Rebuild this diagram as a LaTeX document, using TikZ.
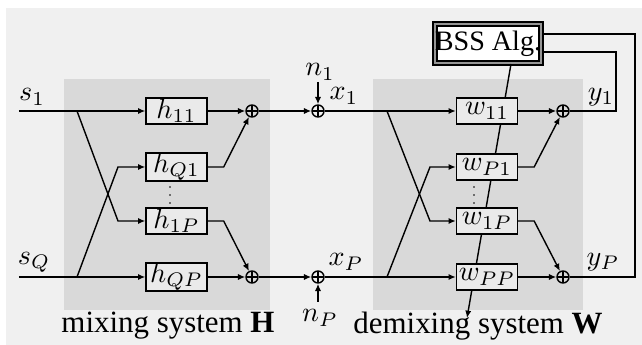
\documentclass[tikz,border=0pt]{standalone}
\usepackage{fontspec}
\setmainfont{Liberation Serif}
\usetikzlibrary{arrows.meta}
\definecolor{bgpanel}{RGB}{240,240,240}
\definecolor{sysgray}{RGB}{217,217,217}
\definecolor{boxfill}{RGB}{234,234,234}
\definecolor{gapgray}{RGB}{150,150,150}

\begin{document}
\begin{tikzpicture}[x=0.125mm, y=-0.125mm,
    filt/.style={rectangle, draw, line width=0.55pt, fill=boxfill, minimum width=7.6mm,
      minimum height=3.25mm, inner sep=0pt},
    sumnode/.style={circle, draw, line width=0.5pt, minimum size=1.5mm, inner sep=0pt,
      path picture={\draw[line width=0.5pt] (path picture bounding box.north) -- (path picture bounding box.south)
        (path picture bounding box.west) -- (path picture bounding box.east);}},
    arr/.style={-{Latex[length=2.6pt,width=2.2pt]}, line width=0.5pt},
    wire/.style={line width=0.5pt},
    lbl/.style={inner sep=0pt}
  ]
    \useasboundingbox (0,0) rectangle (642,345);
    % Backgrounds
    \fill[bgpanel] (6,8) rectangle (642,345);
    \fill[sysgray] (64,79) rectangle (270,310);
    \fill[sysgray] (373,79) rectangle (583,310);
    % Adaptation path (behind the filters)
    \node[draw, line width=0.6pt, double=gapgray, double distance=0.9pt, fill=white,
      minimum width=12.9mm, minimum height=4.9mm, inner sep=0pt, font=\fontsize{10}{12}\selectfont]
      (bss) at (488,43.5) {BSS Alg.};
    \coordinate (adapt) at (467,318);
    \draw[arr] (511,64) -- (adapt);
    % Mixing filters
    \node[filt] (h11) at (176.5,111) {$h_{11}$};
    \node[filt] (hQ1) at (176.5,167) {$h_{Q1}$};
    \node[filt] (h1P) at (176.5,221) {$h_{1P}$};
    \node[filt] (hQP) at (176.5,277) {$h_{QP}$};
    % Demixing filters
    \node[filt] (w11) at (487,111) {$w_{11}$};
    \node[filt] (wP1) at (487,167) {$w_{P1}$};
    \node[filt] (w1P) at (487,221) {$w_{1P}$};
    \node[filt] (wPP) at (487,277) {$w_{PP}$};
    % Vertical dots between the filter rows
    \foreach \xx in {170,474}
      \foreach \yy in {187,195,203}
        \fill (\xx,\yy) circle (0.35pt);
    % Adders
    \node[sumnode] (m1) at (252,111) {};
    \node[sumnode] (mP) at (252,277) {};
    \node[sumnode] (n1s) at (318,111) {};
    \node[sumnode] (nPs) at (318,277) {};
    \node[sumnode] (d1) at (563,111) {};
    \node[sumnode] (dP) at (563,277) {};
    % Free ends and branch points
    \coordinate (s1in) at (19,111);
    \coordinate (sQin) at (19,277);
    \coordinate (bs1) at (77,111);
    \coordinate (bsQ) at (77,277);
    \coordinate (bx1) at (387,111);
    \coordinate (bxP) at (387,277);
    \coordinate (n1in) at (318,82);
    \coordinate (nPin) at (318,302);
    % Signal labels
    \node[lbl] (s1) at (32,97) {$s_1$};
    \node[lbl] (sQ) at (34,262) {$s_Q$};
    \node[lbl] (n1) at (320,72) {$n_1$};
    \node[lbl] (nP) at (320,318) {$n_P$};
    \node[lbl] (x1) at (344,96) {$x_1$};
    \node[lbl] (xP) at (346,262) {$x_P$};
    \node[lbl] (y1) at (601,97) {$y_1$};
    \node[lbl] (yP) at (603,262) {$y_P$};
    % Mixing system
    \draw[arr] (s1in) -- (h11);
    \draw[arr] (sQin) -- (hQP);
    \draw[arr] (bs1) -- (118,221) -- (h1P);
    \draw[arr] (bsQ) -- (118,167) -- (hQ1);
    \draw[arr] (h11) -- (m1);
    \draw[arr] (hQP) -- (mP);
    \draw[arr] (hQ1.east) -- ++(16,0) -- (m1);
    \draw[arr] (h1P.east) -- ++(16,0) -- (mP);
    \draw[arr] (m1) -- (n1s);
    \draw[arr] (mP) -- (nPs);
    \draw[arr] (n1in) -- (n1s);
    \draw[arr] (nPin) -- (nPs);
    % Demixing system
    \draw[arr] (n1s) -- (w11);
    \draw[arr] (nPs) -- (wPP);
    \draw[arr] (bx1) -- (430,221) -- (w1P);
    \draw[arr] (bxP) -- (430,167) -- (wP1);
    \draw[arr] (w11) -- (d1);
    \draw[arr] (wPP) -- (dP);
    \draw[arr] (wP1.east) -- ++(16,0) -- (d1);
    \draw[arr] (w1P.east) -- ++(16,0) -- (dP);
    % Outputs to BSS algorithm
    \draw[wire] (d1) -- (616,111) |- (bss.east |- 0,52);
    \draw[wire] (dP) -- (635,277) |- (bss.east |- 0,34);
    % Captions
    \node[lbl, font=\fontsize{11}{13}\selectfont] (capH) at (168,326) {mixing system $\mathbf{H}$};
    \node[lbl, font=\fontsize{11}{13}\selectfont] (capW) at (478,326) {demixing system $\mathbf{W}$};
\end{tikzpicture}
\end{document}
